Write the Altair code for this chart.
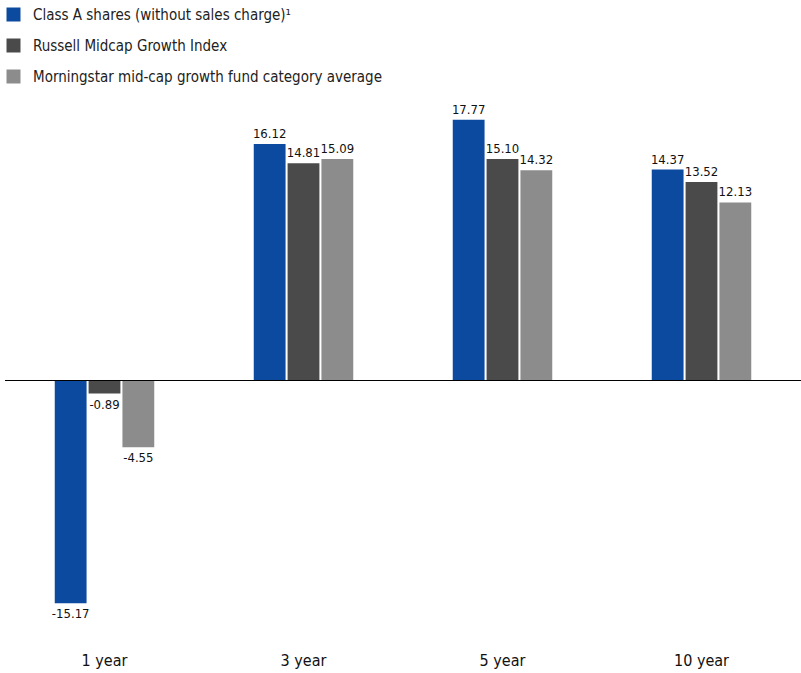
import altair as alt
import pandas as pd

periods = ["1 year", "3 year", "5 year", "10 year"]
series = [
    "Class A shares (without sales charge)\u00b9",
    "Russell Midcap Growth Index",
    "Morningstar mid-cap growth fund category average",
]
class_a = [-15.17, 16.12, 17.77, 14.37]
russell = [-0.89, 14.81, 15.10, 13.52]
morningstar = [-4.55, 15.09, 14.32, 12.13]
colors = ["#0b4a9f", "#4a4a4a", "#8c8c8c"]

rows = []
for vals, s in zip([class_a, russell, morningstar], series):
    for p, v in zip(periods, vals):
        rows.append({"period": p, "series": s, "value": v, "label": f"{v:.2f}"})
df = pd.DataFrame(rows)

FONT = "DejaVu Sans Condensed, Liberation Sans Narrow, Roboto, sans-serif"

x = alt.X("period:N", sort=periods,
          scale=alt.Scale(paddingInner=0.5, paddingOuter=0.25),
          axis=alt.Axis(title=None, ticks=False, domain=False, labelAngle=0,
                        labelFontSize=16, labelFont=FONT, labelColor="#111",
                        labelPadding=22))
xo = alt.XOffset("series:N", sort=series, scale=alt.Scale(paddingInner=0.06))
y = alt.Y("value:Q", scale=alt.Scale(domain=[-17, 20], nice=False, zero=False),
          axis=None)

base = alt.Chart(df)

bars = base.mark_bar().encode(
    x=x, xOffset=xo, y=y, y2=alt.datum(0),
    color=alt.Color("series:N", sort=series,
                    scale=alt.Scale(domain=series, range=colors),
                    legend=alt.Legend(title=None, orient="none", legendX=1, legendY=-80,
                                      symbolType="square", symbolSize=196,
                                      symbolStrokeWidth=0, symbolOpacity=1,
                                      labelFontSize=15, labelFont=FONT,
                                      labelColor="#222", labelOffset=12,
                                      rowPadding=15, labelLimit=500)),
)

pos = base.transform_filter("datum.value >= 0").mark_text(
    baseline="bottom", dy=-3, fontSize=13, font=FONT, color="#111"
).encode(x=x, xOffset=xo, y=y, text="label:N")

neg = base.transform_filter("datum.value < 0").mark_text(
    baseline="top", dy=5, fontSize=13, font=FONT, color="#111"
).encode(x=x, xOffset=xo, y=y, text="label:N")

zero = alt.Chart(pd.DataFrame({"v": [0]})).mark_rule(color="#000", strokeWidth=1.2).encode(
    y=alt.Y("v:Q", scale=alt.Scale(domain=[-17, 20], nice=False, zero=False), axis=None),
    x=alt.value(0), x2=alt.value(796),
)

chart = alt.layer(bars, zero, pos, neg).properties(
    width=796, height=543,
    autosize=alt.AutoSizeParams(type="none"),
    padding={"left": 5, "top": 87, "right": 0, "bottom": 43},
).configure_view(stroke=None)

chart.save("out.html", embed_options={"renderer": "svg", "actions": False})
